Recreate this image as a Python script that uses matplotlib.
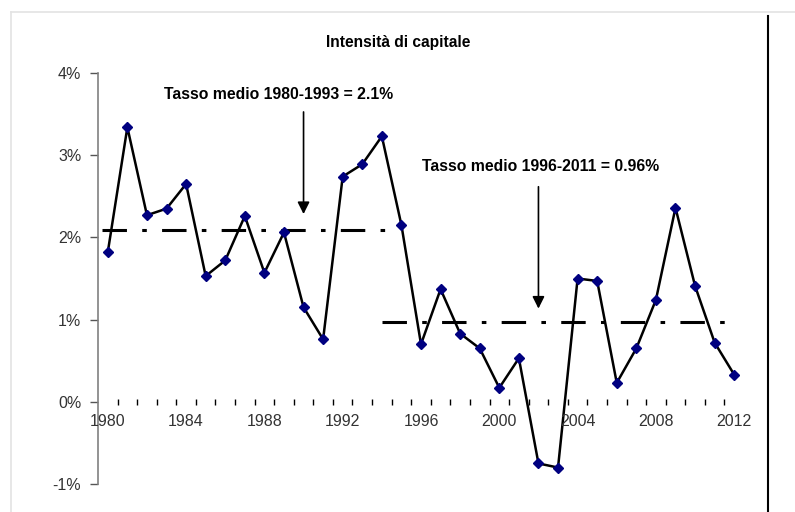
import matplotlib.pyplot as plt
from matplotlib.lines import Line2D
from matplotlib.ticker import FixedLocator, NullFormatter
import numpy as np

years = list(range(1980, 2013))
intensity = [1.82, 3.34, 2.27, 2.35, 2.65, 1.53, 1.72, 2.26, 1.57, 2.06,
             1.15, 0.76, 2.74, 2.89, 3.23, 2.15, 0.70, 1.37, 0.83, 0.65,
             0.17, 0.53, -0.75, -0.80, 1.50, 1.47, 0.23, 0.65, 1.24, 2.36,
             1.41, 0.72, 0.33]

mean1_years = [1979.7, 1994.3]
mean1_value = 2.09
mean2_years = [1994.0, 2011.9]
mean2_value = 0.97

label1 = 'Tasso medio 1980-1993 = 2.1%'
label2 = 'Tasso medio 1996-2011 = 0.96%'
title = 'Intensità di capitale'

yticks = [-1, 0, 1, 2, 3, 4]
ytick_labels = ['-1%', '0%', '1%', '2%', '3%', '4%']
xtick_years = list(range(1980, 2013, 4))

plt.rcParams['font.family'] = ['Liberation Sans', 'DejaVu Sans']

fig = plt.figure(figsize=(7.95, 5.12), dpi=100)
ax = fig.add_axes([98 / 795, 1 - 484 / 512, (744 - 98) / 795, (484 - 73) / 512])

# outer frame like the spreadsheet chart box
fig.add_artist(Line2D([11 / 795, 11 / 795], [0, 1 - 12 / 512], color='#e3e3e3', lw=1.2))
fig.add_artist(Line2D([11 / 795, 1], [1 - 12 / 512, 1 - 12 / 512], color='#e3e3e3', lw=1.2))
fig.add_artist(Line2D([768 / 795, 768 / 795], [0, 1 - 16 / 512], color='black', lw=1.5))

ax.plot(mean1_years, [mean1_value] * 2, color='black', lw=2.2, dashes=(8, 5, 1.5, 5), zorder=2)
ax.plot(mean2_years, [mean2_value] * 2, color='black', lw=2.2, dashes=(8, 5, 1.5, 5), zorder=2)

ax.plot(years, intensity, color='black', lw=1.8, marker='D', markersize=5.5,
        markerfacecolor='#000080', markeredgecolor='#000080', zorder=3)

ax.annotate('', xy=(1990, 2.25), xytext=(1990, 3.56),
            arrowprops=dict(arrowstyle='-|>', color='black', lw=1.2, mutation_scale=18))
ax.annotate('', xy=(2002, 1.1), xytext=(2002, 2.65),
            arrowprops=dict(arrowstyle='-|>', color='black', lw=1.2, mutation_scale=18))

ax.text(1988.7, 3.74, label1, ha='center', va='center', fontsize=11.3, fontweight='bold')
ax.text(2002.1, 2.86, label2, ha='center', va='center', fontsize=11.3, fontweight='bold')

ax.set_xlim(1979.5, 2012.5)
ax.set_ylim(-1, 4)

ax.set_yticks(yticks)
ax.set_yticklabels(ytick_labels, color='#333333', fontsize=11.5)
ax.tick_params(axis='y', direction='out', length=6, width=1, color='#555555', pad=6)

# x axis sits at 0 with ticks between categories, no axis line
ax.spines['bottom'].set_position(('data', 0))
ax.spines['bottom'].set_visible(False)
ax.spines['top'].set_visible(False)
ax.spines['right'].set_visible(False)
ax.spines['left'].set_color('#808080')
ax.spines['left'].set_linewidth(1.2)

ax.xaxis.set_major_locator(FixedLocator(np.arange(1980.5, 2012.5, 1)))
ax.xaxis.set_major_formatter(NullFormatter())
ax.tick_params(axis='x', direction='inout', length=5, width=1, color='black')
for yr in xtick_years:
    ax.text(yr, -0.15, str(yr), ha='center', va='top', fontsize=11.5, color='#333333')

fig.text(398 / 795, 1 - 42 / 512, title, ha='center', va='center', fontsize=11.2, fontweight='bold')

fig.savefig('out.png', dpi=100)
